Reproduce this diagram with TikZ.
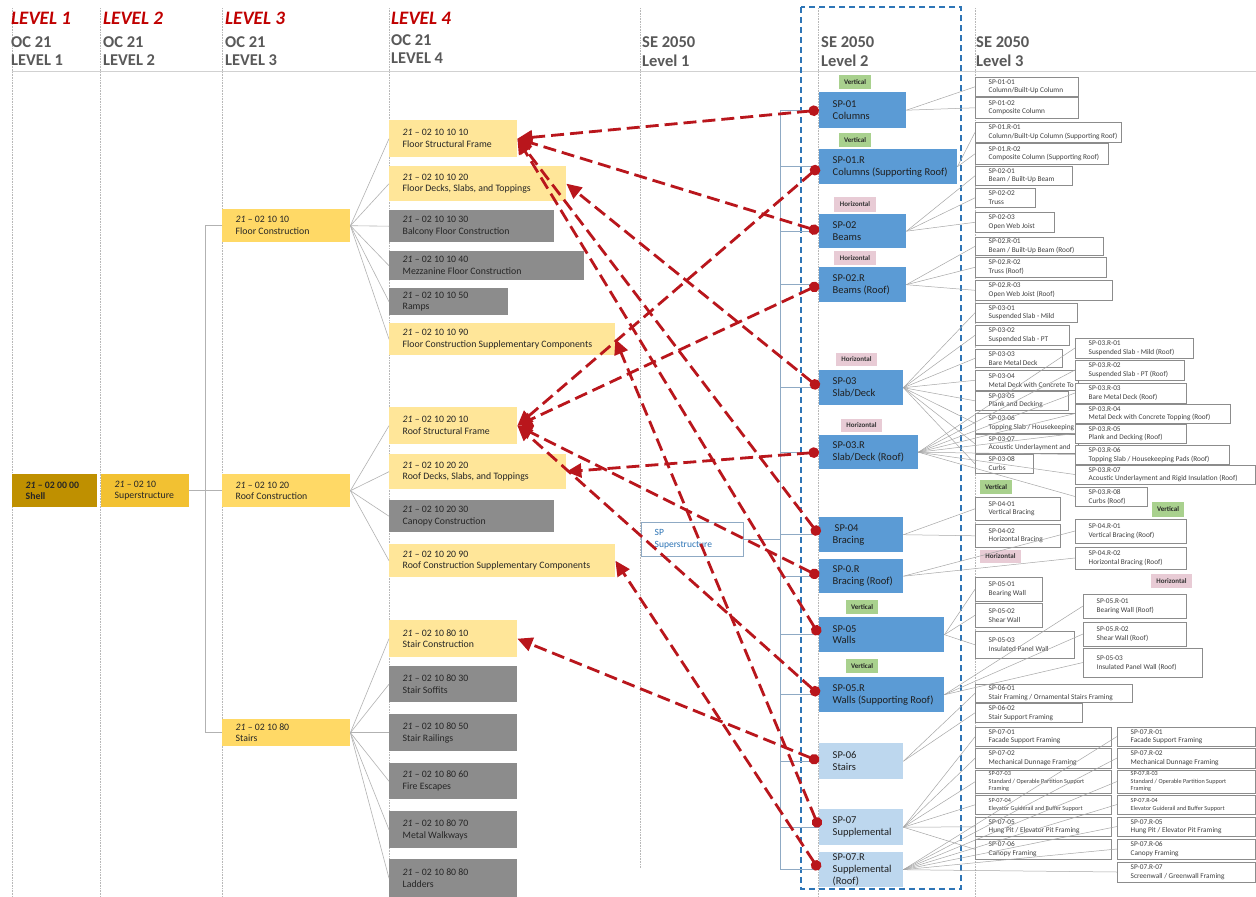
\documentclass[tikz,border=0pt]{standalone}
\usepackage{fontspec}
\setmainfont{Carlito}
\usetikzlibrary{arrows.meta,calc}

\definecolor{cRed}{RGB}{192,0,0}
\definecolor{cArrow}{RGB}{185,22,28}
\definecolor{cGrayH}{RGB}{89,89,89}
\definecolor{cShell}{RGB}{191,144,0}
\definecolor{cSup}{RGB}{242,193,50}
\definecolor{cLthree}{RGB}{255,217,102}
\definecolor{cLfour}{RGB}{255,230,153}
\definecolor{cGfour}{RGB}{140,140,140}
\definecolor{cBlue}{RGB}{91,155,213}
\definecolor{cLBlue}{RGB}{189,215,238}
\definecolor{cGreen}{RGB}{169,209,142}
\definecolor{cPink}{RGB}{232,203,213}
\definecolor{cDash}{RGB}{46,117,182}
\definecolor{cBus}{RGB}{143,170,196}
\definecolor{cTxt}{RGB}{38,38,38}
\definecolor{cSmall}{RGB}{64,64,64}

\newcommand{\mkbox}[8]{%
\pgfmathsetmacro{\mbw}{#6-#4}\pgfmathsetmacro{\mbh}{#7-#5}%
\node[#1, anchor=north west, minimum width=\mbw pt, minimum height=\mbh pt, inner sep=0pt] (#3) at (#4,#5) {};%
\node[#2, anchor=west, align=left, inner sep=0pt] (#3t) at ([xshift=13.5pt]#3.west) {#8};}

\newcommand{\mktag}[7]{%
\pgfmathsetmacro{\mbw}{#5-#3}\pgfmathsetmacro{\mbh}{#6-#4}%
\node[#1, minimum width=\mbw pt, minimum height=\mbh pt, inner sep=0pt] (#2) at ({(#3+#5)/2},{(#4+#6)/2}) {#7};}

\newcommand{\occ}[2]{\textit{21} – #1\\#2}

\tikzset{
 hred/.style={font=\fontsize{19}{22}\selectfont\bfseries\itshape, text=cRed, inner sep=0pt, anchor=west},
 hgray/.style={font=\fontsize{16.5}{19}\selectfont\bfseries, text=cGrayH, inner sep=0pt, anchor=west},
 gridl/.style={draw=black!28, densely dotted, line width=0.6pt},
 headl/.style={draw=black!18, line width=1.4pt},
 dashbox/.style={draw=cDash, line width=1.4pt, dash pattern=on 6pt off 4pt},
 shellb/.style={fill=cShell},
 supb/.style={fill=cSup},
 lthb/.style={fill=cLthree},
 lfy/.style={fill=cLfour},
 lfg/.style={fill=cGfour},
 octx/.style={font=\fontsize{9.8}{11.7}\selectfont, text=cTxt},
 shtx/.style={font=\fontsize{9.8}{11.7}\selectfont\bfseries, text=cTxt},
 bluebox/.style={fill=cBlue},
 lbluebox/.style={fill=cLBlue},
 sptx/.style={font=\fontsize{10.5}{11.8}\selectfont, text=black!88},
 spsbox/.style={fill=white, draw=cBus, line width=0.6pt},
 spstx/.style={font=\fontsize{9.5}{11.5}\selectfont, text=cDash},
 smbox/.style={fill=white, draw=black!45, line width=0.6pt},
 smtx/.style={font=\fontsize{7.3}{8.8}\selectfont, text=cSmall},
 smtxs/.style={font=\fontsize{6.2}{7.4}\selectfont, text=cSmall},
 tagv/.style={fill=cGreen, font=\fontsize{7}{8}\selectfont\bfseries, text=black!85},
 tagh/.style={fill=cPink, font=\fontsize{7}{8}\selectfont\bfseries, text=black!80},
 fan/.style={draw=black!35, line width=0.5pt},
 tree/.style={draw=black!30, line width=0.6pt},
 busl/.style={draw=cBus, line width=0.9pt},
 redarr/.style={draw=cArrow, line width=2.8pt, dash pattern=on 13pt off 6pt,
   {Circle[length=10.5pt]}-{Triangle[length=15pt,width=14pt]}},
}

\begin{document}
\begin{tikzpicture}[x=1pt,y=-1pt]
\useasboundingbox[fill=white] (0,0) rectangle (1256,897);

% ---------- column guides and header ----------
\foreach \gx in {12,100,222,389,818,975} \draw[gridl] (\gx,8) -- (\gx,897);
\draw[gridl] (640,8) -- (640,868);
\draw[headl] (12,71.5) -- (1256,71.5);
\draw[dashbox] (801,7) rectangle (961,889);

\node[hred] (h1a) at (11,18) {LEVEL 1};
\node[hgray] (h1b) at (11,42) {OC 21};
\node[hgray] (h1c) at (11,60) {LEVEL 1};
\node[hred] (h2a) at (103,18) {LEVEL 2};
\node[hgray] (h2b) at (103,42) {OC 21};
\node[hgray] (h2c) at (103,60) {LEVEL 2};
\node[hred] (h3a) at (225,18) {LEVEL 3};
\node[hgray] (h3b) at (225,42) {OC 21};
\node[hgray] (h3c) at (225,60) {LEVEL 3};
\node[hred] (h4a) at (391,18) {LEVEL 4};
\node[hgray] (h4b) at (391,40) {OC 21};
\node[hgray] (h4c) at (391,58) {LEVEL 4};
\node[hgray] (s1a) at (642,42) {SE 2050};
\node[hgray] (s1b) at (642,61) {Level 1};
\node[hgray] (s2a) at (821,42) {SE 2050};
\node[hgray] (s2b) at (821,61) {Level 2};
\node[hgray] (s3a) at (976,42) {SE 2050};
\node[hgray] (s3b) at (976,61) {Level 3};

% ---------- OC 21 hierarchy ----------
\mkbox{shellb}{shtx}{shell}{12}{474}{97}{507}{\textit{21} – 02 00 00\\Shell}
\mkbox{supb}{octx}{sup}{101}{474}{189}{507}{\occ{02 10}{Superstructure}}
\mkbox{lthb}{octx}{fc}{222}{209}{350}{242}{\occ{02 10 10}{Floor Construction}}
\mkbox{lthb}{octx}{rc}{222}{474}{350}{507}{\occ{02 10 20}{Roof Construction}}
\mkbox{lthb}{octx}{st}{222}{719}{350}{746}{\occ{02 10 80}{Stairs}}

\mkbox{lfy}{octx}{fsf}{389}{120}{517}{157}{\occ{02 10 10 10}{Floor Structural Frame}}
\mkbox{lfy}{octx}{fdk}{389}{166}{566}{201}{\occ{02 10 10 20}{Floor Decks, Slabs, and Toppings}}
\mkbox{lfg}{octx}{fbc}{389}{210}{554}{242}{\occ{02 10 10 30}{Balcony Floor Construction}}
\mkbox{lfg}{octx}{fmz}{389}{251}{584}{280}{\occ{02 10 10 40}{Mezzanine Floor Construction}}
\mkbox{lfg}{octx}{frp}{389}{288}{508}{315}{\occ{02 10 10 50}{Ramps}}
\mkbox{lfy}{octx}{fcs}{389}{323}{615}{355}{\occ{02 10 10 90}{Floor Construction Supplementary Components}}
\mkbox{lfy}{octx}{rsf}{389}{407}{517}{444}{\occ{02 10 20 10}{Roof Structural Frame}}
\mkbox{lfy}{octx}{rdk}{389}{454}{566}{489}{\occ{02 10 20 20}{Roof Decks, Slabs, and Toppings}}
\mkbox{lfg}{octx}{rcn}{389}{500}{554}{532}{\occ{02 10 20 30}{Canopy Construction}}
\mkbox{lfy}{octx}{rcs}{389}{544}{615}{577}{\occ{02 10 20 90}{Roof Construction Supplementary Components}}
\mkbox{lfy}{octx}{stc}{389}{620}{517}{657}{\occ{02 10 80 10}{Stair Construction}}
\mkbox{lfg}{octx}{sso}{389}{666}{517}{702}{\occ{02 10 80 30}{Stair Soffits}}
\mkbox{lfg}{octx}{srl}{389}{714}{517}{751}{\occ{02 10 80 50}{Stair Railings}}
\mkbox{lfg}{octx}{sfe}{389}{763}{517}{799}{\occ{02 10 80 60}{Fire Escapes}}
\mkbox{lfg}{octx}{smw}{389}{811}{517}{848}{\occ{02 10 80 70}{Metal Walkways}}
\mkbox{lfg}{octx}{sld}{389}{859}{517}{897}{\occ{02 10 80 80}{Ladders}}

\coordinate (tb) at (205,0);
\draw[tree] (sup.east) -- (rc.west);
\draw[tree] (fc.west) -- (tb |- fc.west) -- (tb |- st.west) -- (st.west);
\foreach \t in {fsf,fdk,fbc,fmz,frp,fcs} \draw[tree] (fc.east) -- (\t.west);
\foreach \t in {rsf,rdk,rcn,rcs} \draw[tree] (rc.east) -- (\t.west);
\foreach \t in {stc,sso,srl,sfe,smw,sld} \draw[tree] (st.east) -- (\t.west);

% ---------- SE 2050 level 1 and 2 ----------
\mkbox{spsbox}{spstx}{sps}{641}{522}{743}{556}{SP\\Superstructure}

\mkbox{bluebox}{sptx}{sp01}{819}{92}{906}{128}{SP-01\\Columns}
\mkbox{bluebox}{sptx}{sp01r}{819}{149}{957}{184}{SP-01.R\\Columns (Supporting Roof)}
\mkbox{bluebox}{sptx}{sp02}{819}{214}{906}{248}{SP-02\\Beams}
\mkbox{bluebox}{sptx}{sp02r}{819}{267}{906}{302}{SP-02.R\\Beams (Roof)}
\mkbox{bluebox}{sptx}{sp03}{819}{370}{903}{405}{SP-03\\Slab/Deck}
\mkbox{bluebox}{sptx}{sp03r}{819}{435}{918}{469}{SP-03.R\\Slab/Deck (Roof)}
\mkbox{bluebox}{sptx}{sp04}{819}{517}{903}{552}{\hspace{2pt}SP-04\\Bracing}
\mkbox{bluebox}{sptx}{sp0r}{819}{559}{903}{593}{SP-0.R\\Bracing (Roof)}
\mkbox{bluebox}{sptx}{sp05}{819}{617}{944}{652}{SP-05\\Walls}
\mkbox{bluebox}{sptx}{sp05r}{819}{677}{944}{712}{SP-05.R\\Walls (Supporting Roof)}
\mkbox{lbluebox}{sptx}{sp06}{819}{743}{903}{779}{SP-06\\Stairs}
\mkbox{lbluebox}{sptx}{sp07}{819}{809}{903}{845}{SP-07\\Supplemental}
\mkbox{lbluebox}{sptx}{sp07r}{819}{852}{903}{887}{SP-07.R\\Supplemental\\(Roof)}

\coordinate (bus) at (780,0);
\draw[busl] (sps.east) -- (bus |- sps.east);
\draw[busl] (bus |- sp01.west) -- (bus |- sp07r.west);
\foreach \t in {sp01,sp01r,sp02,sp02r,sp03,sp03r,sp04,sp0r,sp05,sp05r,sp06,sp07,sp07r}
  \draw[busl] (bus |- \t.west) -- (\t.west);

% tags
\mktag{tagv}{tv1}{839}{75}{871}{89}{Vertical}
\mktag{tagv}{tv2}{839}{133}{871}{147}{Vertical}
\mktag{tagh}{th1}{834}{197}{876}{212}{Horizontal}
\mktag{tagh}{th2}{834}{251}{876}{265}{Horizontal}
\mktag{tagh}{th3}{836}{353}{877}{366}{Horizontal}
\mktag{tagh}{th4}{841}{419}{882}{432}{Horizontal}
\mktag{tagv}{tv3}{846}{600}{878}{614}{Vertical}
\mktag{tagv}{tv4}{846}{659}{878}{673}{Vertical}
\mktag{tagv}{tva}{980}{480}{1012}{494}{Vertical}
\mktag{tagv}{tvb}{1152}{502}{1184}{517}{Vertical}
\mktag{tagh}{tha}{980}{550}{1021}{563}{Horizontal}
\mktag{tagh}{thb}{1151}{574}{1192}{588}{Horizontal}

% ---------- SE 2050 level 3, column A ----------
\mkbox{smbox}{smtx}{a0101}{975}{77}{1078}{96}{SP-01-01\\Column/Built-Up Column}
\mkbox{smbox}{smtx}{a0102}{975}{97}{1078}{118}{SP-01-02\\Composite Column}
\mkbox{smbox}{smtx}{a01r1}{975}{122}{1121}{142}{SP-01.R-01\\Column/Built-Up Column (Supporting Roof)}
\mkbox{smbox}{smtx}{a01r2}{975}{143}{1108}{164}{SP-01.R-02\\Composite Column (Supporting Roof)}
\mkbox{smbox}{smtx}{a0201}{975}{166}{1072}{185}{SP-02-01\\Beam / Built-Up Beam}
\mkbox{smbox}{smtx}{a0202}{975}{188}{1035}{207}{SP-02-02\\Truss}
\mkbox{smbox}{smtx}{a0203}{975}{212}{1054}{232}{SP-02-03\\Open Web Joist}
\mkbox{smbox}{smtx}{a02r1}{975}{237}{1103}{255}{SP-02.R-01\\Beam / Built-Up Beam (Roof)}
\mkbox{smbox}{smtx}{a02r2}{975}{257}{1106}{277}{SP-02.R-02\\Truss (Roof)}
\mkbox{smbox}{smtx}{a02r3}{975}{280}{1112}{300}{SP-02.R-03\\Open Web Joist (Roof)}
\mkbox{smbox}{smtx}{a0301}{975}{303}{1077}{322}{SP-03-01\\Suspended Slab - Mild}
\mkbox{smbox}{smtx}{a0302}{975}{325}{1069}{345}{SP-03-02\\Suspended Slab - PT}
\mkbox{smbox}{smtx}{a0303}{975}{349}{1062}{367}{SP-03-03\\Bare Metal Deck}
\mkbox{smbox}{smtx}{a0304}{975}{370}{1078}{390}{SP-03-04\\Metal Deck with Concrete To}
\mkbox{smbox}{smtx}{a0305}{975}{391}{1068}{410}{SP-03-05\\Plank and Decking}
\mkbox{smbox}{smtx}{a0306}{975}{413}{1078}{433}{SP-03-06\\Topping Slab / Housekeeping}
\mkbox{smbox}{smtx}{a0307}{975}{434}{1078}{453}{SP-03-07\\Acoustic Underlayment and}
\mkbox{smbox}{smtx}{a0308}{975}{454}{1033}{473}{SP-03-08\\Curbs}
\mkbox{smbox}{smtx}{a0401}{975}{497}{1060}{520}{SP-04-01\\Vertical Bracing}
\mkbox{smbox}{smtx}{a0402}{975}{524}{1060}{547}{SP-04-02\\Horizontal Bracing}
\mkbox{smbox}{smtx}{a0501}{975}{577}{1042}{601}{SP-05-01\\Bearing Wall}
\mkbox{smbox}{smtx}{a0502}{975}{603}{1042}{627}{SP-05-02\\Shear Wall}
\mkbox{smbox}{smtx}{a0503}{975}{631}{1074}{658}{SP-05-03\\Insulated Panel Wall}
\mkbox{smbox}{smtx}{a0601}{975}{684}{1132}{702}{SP-06-01\\Stair Framing / Ornamental Stairs Framing}
\mkbox{smbox}{smtx}{a0602}{975}{703}{1082}{722}{SP-06-02\\Stair Support Framing}
\mkbox{smbox}{smtx}{a0701}{975}{727}{1111}{746}{SP-07-01\\Facade Support Framing}
\mkbox{smbox}{smtx}{a0702}{975}{748}{1111}{768}{SP-07-02\\Mechanical Dunnage Framing}
\mkbox{smbox}{smtxs}{a0703}{975}{770}{1111}{793}{SP-07-03\\Standard / Operable Partition Support\\Framing}
\mkbox{smbox}{smtxs}{a0704}{975}{795}{1111}{814}{SP-07-04\\Elevator Guiderail and Buffer Support}
\mkbox{smbox}{smtx}{a0705}{975}{817}{1111}{836}{SP-07-05\\Hung Pit / Elevator Pit Framing}
\mkbox{smbox}{smtx}{a0706}{975}{839}{1111}{859}{SP-07-06\\Canopy Framing}

% fan lines
\foreach \t in {a0101,a0102} \draw[fan] (sp01.east) -- (\t.west);
\foreach \t in {a01r1,a01r2} \draw[fan] (sp01r.east) -- (\t.west);
\foreach \t in {a0201,a0202,a0203} \draw[fan] (sp02.east) -- (\t.west);
\foreach \t in {a02r1,a02r2,a02r3} \draw[fan] (sp02r.east) -- (\t.west);
\foreach \t in {a0301,a0302,a0303,a0304,a0305,a0306,a0307,a0308} \draw[fan] (sp03.east) -- (\t.west);
\foreach \t in {a0401,a0402} \draw[fan] (sp04.east) -- (\t.west);
\foreach \t in {a0501,a0502,a0503} \draw[fan] (sp05.east) -- (\t.west);
\foreach \t in {a0601,a0602} \draw[fan] (sp06.east) -- (\t.west);
\foreach \t in {a0701,a0702,a0703,a0704,a0705,a0706} \draw[fan] (sp07.east) -- (\t.west);

\coordinate (b03r1w) at (1075,348);
\coordinate (b03r2w) at (1075,370);
\coordinate (b03r3w) at (1075,393);
\coordinate (b03r4w) at (1075,413.5);
\coordinate (b03r5w) at (1075,433.5);
\coordinate (b03r6w) at (1075,454.5);
\coordinate (b03r7w) at (1075,474.5);
\coordinate (b03r8w) at (1075,496.5);
\foreach \t in {b03r1w,b03r2w,b03r3w,b03r4w,b03r5w,b03r6w,b03r7w,b03r8w} \draw[fan] (sp03r.east) -- (\t);
\coordinate (b04r1w) at (1075,531);
\coordinate (b04r2w) at (1075,558);
\foreach \t in {b04r1w,b04r2w} \draw[fan] (sp0r.east) -- (\t);
\coordinate (b05r1w) at (1083,606);
\coordinate (b05r2w) at (1083,634);
\coordinate (b05r3w) at (1083,662.5);
\foreach \t in {b05r1w,b05r2w,b05r3w} \draw[fan] (sp05r.east) -- (\t);
\coordinate (b07r1w) at (1117,736.5);
\coordinate (b07r2w) at (1117,758);
\coordinate (b07r3w) at (1117,781.5);
\coordinate (b07r4w) at (1117,804.5);
\coordinate (b07r5w) at (1117,826.5);
\coordinate (b07r6w) at (1117,849);
\coordinate (b07r7w) at (1117,872);
\foreach \t in {b07r1w,b07r2w,b07r3w,b07r4w,b07r5w,b07r6w,b07r7w} \draw[fan] (sp07r.east) -- (\t);

% ---------- SE 2050 level 3, column B ----------
\mkbox{smbox}{smtx}{b03r1}{1075}{338}{1193}{358}{SP-03.R-01\\Suspended Slab - Mild (Roof)}
\mkbox{smbox}{smtx}{b03r2}{1075}{360}{1184}{380}{SP-03.R-02\\Suspended Slab - PT (Roof)}
\mkbox{smbox}{smtx}{b03r3}{1075}{383}{1186}{403}{SP-03.R-03\\Bare Metal Deck (Roof)}
\mkbox{smbox}{smtx}{b03r4}{1075}{404}{1230}{423}{SP-03.R-04\\Metal Deck with Concrete Topping (Roof)}
\mkbox{smbox}{smtx}{b03r5}{1075}{424}{1186}{443}{SP-03.R-05\\Plank and Decking (Roof)}
\mkbox{smbox}{smtx}{b03r6}{1075}{445}{1229}{464}{SP-03.R-06\\Topping Slab / Housekeeping Pads (Roof)}
\mkbox{smbox}{smtx}{b03r7}{1075}{465}{1255}{484}{SP-03.R-07\\Acoustic Underlayment and Rigid Insulation (Roof)}
\mkbox{smbox}{smtx}{b03r8}{1075}{487}{1147}{506}{SP-03.R-08\\Curbs (Roof)}
\mkbox{smbox}{smtx}{b04r1}{1075}{519}{1186}{543}{SP-04.R-01\\Vertical Bracing (Roof)}
\mkbox{smbox}{smtx}{b04r2}{1075}{547}{1186}{569}{SP-04.R-02\\Horizontal Bracing (Roof)}
\mkbox{smbox}{smtx}{b05r1}{1083}{594}{1186}{618}{SP-05.R-01\\Bearing Wall (Roof)}
\mkbox{smbox}{smtx}{b05r2}{1083}{622}{1186}{646}{SP-05.R-02\\Shear Wall (Roof)}
\mkbox{smbox}{smtx}{b05r3}{1083}{648}{1202}{677}{SP-05-03\\Insulated Panel Wall (Roof)}
\mkbox{smbox}{smtx}{b07r1}{1117}{727}{1255}{746}{SP-07.R-01\\Facade Support Framing}
\mkbox{smbox}{smtx}{b07r2}{1117}{748}{1255}{768}{SP-07.R-02\\Mechanical Dunnage Framing}
\mkbox{smbox}{smtxs}{b07r3}{1117}{770}{1255}{793}{SP-07.R-03\\Standard / Operable Partition Support\\Framing}
\mkbox{smbox}{smtxs}{b07r4}{1117}{795}{1255}{814}{SP-07.R-04\\Elevator Guiderail and Buffer Support}
\mkbox{smbox}{smtx}{b07r5}{1117}{817}{1255}{836}{SP-07.R-05\\Hung Pit / Elevator Pit Framing}
\mkbox{smbox}{smtx}{b07r6}{1117}{839}{1255}{859}{SP-07.R-06\\Canopy Framing}
\mkbox{smbox}{smtx}{b07r7}{1117}{862}{1255}{882}{SP-07.R-07\\Screenwall / Greenwall Framing}

% ---------- mapping arrows ----------
\draw[redarr] (sp01.west) -- (fsf.east);
\draw[redarr] (sp02.west) -- (fsf.east);
\draw[redarr] (sp04.west) -- (fsf.east);
\draw[redarr] (sp05.west) -- (fsf.east);
\draw[redarr] (sp03.west) -- (fdk.east);
\draw[redarr] (sp07.west) -- (fcs.east);
\draw[redarr] (sp01r.west) -- (rsf.east);
\draw[redarr] (sp02r.west) -- (rsf.east);
\draw[redarr] (sp0r.west) -- (rsf.east);
\draw[redarr] (sp05r.west) -- (rsf.east);
\draw[redarr] (sp03r.west) -- (rdk.east);
\draw[redarr] (sp07r.west) -- (rcs.east);
\draw[redarr] (sp06.west) -- (stc.east);
\end{tikzpicture}
\end{document}
